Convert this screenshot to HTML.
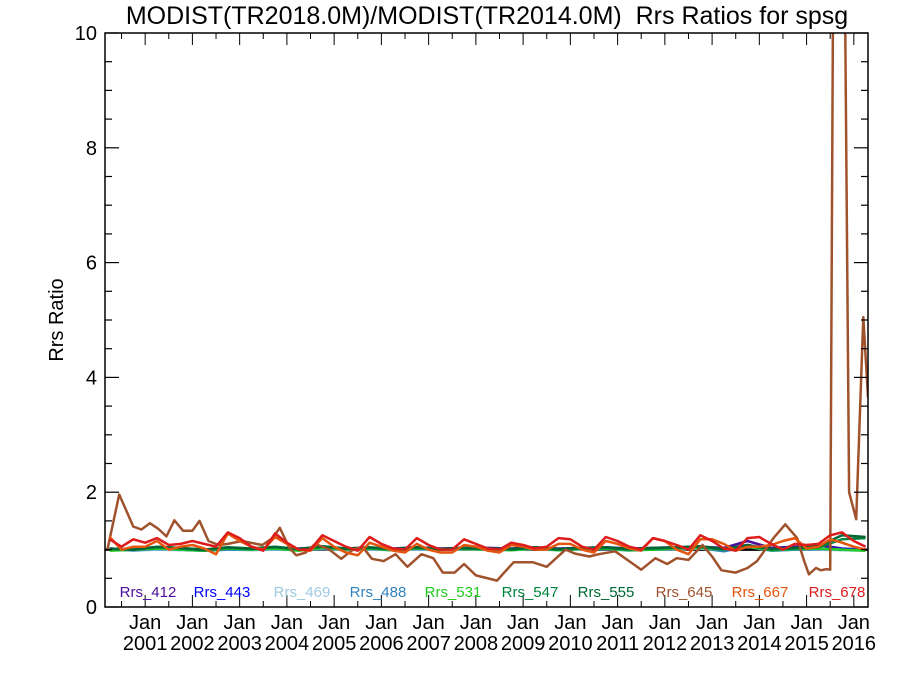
<!DOCTYPE html>
<html><head><meta charset="utf-8"><style>
html,body{margin:0;padding:0;background:#fff;}
svg text{font-family:"Liberation Sans",sans-serif;}
</style></head><body>
<svg id="chart" width="900" height="675" xmlns="http://www.w3.org/2000/svg">
<text x="487" y="24" font-size="25" text-anchor="middle">MODIST(TR2018.0M)/MODIST(TR2014.0M)&#160; Rrs Ratios for spsg</text>
<text x="0" y="0" font-size="20" text-anchor="middle" transform="translate(63,320) rotate(-90)">Rrs Ratio</text>
<defs><clipPath id="plotclip"><rect x="105" y="33" width="763" height="574"/></clipPath></defs>
<g id="series" clip-path="url(#plotclip)"></g>
<g id="axes"></g>
<g id="legend"></g>
</svg>
<script>
const xDomain=[2000.15,2016.3];
const yDomain=[0,10];
const yTicks=[0,2,4,6,8,10];
const years=[2001,2002,2003,2004,2005,2006,2007,2008,2009,2010,2011,2012,2013,2014,2015,2016];
const seriesNames=["Rrs_412","Rrs_443","Rrs_469","Rrs_488","Rrs_531","Rrs_547","Rrs_555","Rrs_645","Rrs_667","Rrs_678"];
const seriesColors=["#4a0e9e","#0000ff","#9ecae1","#3182bd","#22cc22","#00843d","#006633","#a0522d","#e6550d","#dd1c1c"];
const tQ=[];for(let i=0;i<65;i++)tQ.push(2000.25+0.25*i);
const tH=[];for(let i=0;i<33;i++)tH.push(2000.25+0.5*i);
const v412=[1.02,1.0,1.03,1.02,1.0,1.02,1.01,1.03,1.02,1.04,1.02,1.03,1.02,1.04,1.02,1.03,1.03,1.02,1.04,1.02,1.03,1.04,1.02,1.03,1.04,1.05,1.03,1.15,1.03,1.05,1.08,1.02,1.0];
const v443=[1.0,0.99,1.01,1.0,0.99,1.01,1.0,1.02,1.0,1.03,1.0,1.02,1.0,1.01,1.0,1.02,1.01,1.0,1.03,1.0,1.02,1.02,1.0,1.01,1.03,1.02,1.0,1.08,1.0,1.02,1.02,1.01,0.99];
const v469=[1.01,0.98,1.0,0.99,0.98,1.0,0.99,1.0,0.99,1.01,0.99,1.0,0.99,1.0,0.99,1.0,1.0,0.99,1.01,0.99,1.0,1.01,0.98,1.0,1.0,1.02,0.97,1.05,0.98,1.0,1.0,0.99,0.98];
const v488=[1.0,0.99,1.01,1.0,0.98,1.0,1.0,1.01,0.99,1.02,1.0,1.01,0.99,1.01,1.0,1.01,1.0,1.0,1.02,0.99,1.01,1.01,0.99,1.0,1.01,1.03,0.97,1.06,0.98,1.0,1.01,1.0,0.99];
const v531=[0.98,1.0,1.02,1.0,0.98,1.02,1.0,1.02,0.98,1.03,1.0,1.02,0.99,1.02,1.0,1.01,1.0,0.99,1.02,0.99,1.01,1.02,0.99,1.0,1.02,1.03,1.0,1.05,0.99,1.01,1.02,1.0,0.98];
const v547=[1.01,1.0,1.04,1.02,0.99,1.03,1.01,1.04,1.0,1.05,1.01,1.03,1.0,1.03,1.0,1.02,1.01,1.0,1.03,1.0,1.02,1.03,1.0,1.02,1.03,1.05,1.0,1.07,1.0,1.02,1.04,1.18,1.2];
const v555=[1.02,1.0,1.05,1.03,1.0,1.04,1.02,1.05,1.01,1.06,1.02,1.04,1.01,1.04,1.01,1.03,1.02,1.01,1.04,1.01,1.03,1.04,1.01,1.03,1.04,1.06,1.01,1.08,1.01,1.03,1.06,1.25,1.22];
const v667=[1.22,1.0,1.05,1.05,1.15,1.0,1.05,1.08,1.02,0.92,1.28,1.15,1.05,1.0,1.22,1.1,1.0,0.98,1.2,1.05,0.95,0.9,1.12,1.05,0.98,0.95,1.1,1.0,0.95,0.95,1.08,1.05,0.98,0.95,1.08,1.05,1.0,1.0,1.1,1.1,1.0,0.95,1.15,1.1,1.02,0.98,1.2,1.15,1.0,0.92,1.18,1.18,1.1,0.98,1.05,1.05,1.08,1.15,1.2,1.02,1.05,1.18,1.12,1.05,1.0];
const v678=[1.18,1.05,1.18,1.12,1.2,1.08,1.1,1.15,1.1,1.05,1.3,1.2,1.05,0.98,1.28,1.12,1.0,1.0,1.25,1.15,1.05,0.98,1.22,1.1,1.02,1.0,1.2,1.08,1.0,1.0,1.18,1.1,1.02,1.0,1.12,1.08,1.02,1.05,1.2,1.18,1.05,1.0,1.22,1.15,1.05,1.0,1.2,1.15,1.08,1.0,1.25,1.15,1.02,0.98,1.2,1.22,1.1,1.0,1.1,1.08,1.1,1.25,1.3,1.15,1.05];
const t645=[2000.2,2000.45,2000.75,2000.92,2001.1,2001.28,2001.45,2001.62,2001.8,2002.0,2002.15,2002.34,2002.55,2002.75,2003.05,2003.35,2003.48,2003.7,2003.85,2004.05,2004.2,2004.4,2004.6,2004.9,2005.15,2005.4,2005.6,2005.8,2006.05,2006.3,2006.55,2006.85,2007.1,2007.3,2007.55,2007.75,2008.0,2008.45,2008.6,2008.8,2009.2,2009.5,2009.9,2010.1,2010.4,2010.6,2010.95,2011.5,2011.8,2012.05,2012.25,2012.5,2012.8,2013.0,2013.2,2013.5,2013.75,2013.95,2014.3,2014.55,2014.8,2014.95,2015.05,2015.2,2015.3,2015.42,2015.5,2015.58,2015.72,2015.78,2015.9,2016.05,2016.2,2016.3];
const v645=[1.0,1.96,1.4,1.35,1.46,1.36,1.23,1.51,1.33,1.33,1.5,1.15,1.08,1.1,1.15,1.1,1.08,1.2,1.38,1.03,0.9,0.95,1.1,1.0,0.84,1.0,1.05,0.84,0.8,0.92,0.7,0.92,0.85,0.6,0.6,0.75,0.55,0.46,0.6,0.78,0.78,0.7,1.0,0.93,0.88,0.92,0.97,0.65,0.85,0.75,0.85,0.82,1.08,0.88,0.64,0.6,0.68,0.8,1.2,1.44,1.2,0.8,0.57,0.68,0.64,0.66,0.65,14,16,14,2.0,1.53,5.05,3.65];
const seriesTimes=[tH,tH,tH,tH,tH,tH,tH,t645,tQ,tQ];
const seriesValues=[v412,v443,v469,v488,v531,v547,v555,v645,v667,v678];

const L=105,R=868,T=33,B=607;
const xs=t=>L+(t-xDomain[0])/(xDomain[1]-xDomain[0])*(R-L);
const ys=v=>B-(v-yDomain[0])/(yDomain[1]-yDomain[0])*(B-T);
const NS="http://www.w3.org/2000/svg";
function mk(tag,attrs,parent){const e=document.createElementNS(NS,tag);for(const k in attrs)e.setAttribute(k,attrs[k]);parent.appendChild(e);return e;}
const gS=document.getElementById('series'),gA=document.getElementById('axes'),gL=document.getElementById('legend');

const ref=mk('line',{x1:L,x2:R,y1:ys(1),y2:ys(1),stroke:'#000','stroke-width':2.5},gS);



seriesNames.forEach((n,i)=>{
  const pts=seriesTimes[i].map((t,j)=>xs(t).toFixed(1)+','+ys(seriesValues[i][j]).toFixed(1)).join(' ');
  const p=mk('polyline',{points:pts,fill:'none',stroke:seriesColors[i],'stroke-width':2.5,'stroke-linejoin':'round'},gS);
  
  
});

const fr=mk('rect',{x:L,y:T,width:R-L,height:B-T,fill:'none',stroke:'#000','stroke-width':1.5},gA);



for(let v=0;v<=10.001;v+=0.5){
  const major=Math.abs(v%2)<1e-6;const len=major?14:7;const y=ys(v);
  const a=mk('line',{x1:L,x2:L+len,y1:y,y2:y,stroke:'#000','stroke-width':1.2},gA);
  
  
  const b=mk('line',{x1:R,x2:R-len,y1:y,y2:y,stroke:'#000','stroke-width':1.2},gA);
  
  
}
yTicks.forEach(v=>{
  const t=mk('text',{x:97,y:ys(v)+7,'font-size':20,'text-anchor':'end'},gA);
  t.textContent=String(v);
  
  
});
for(let t=2000.5;t<=2016.3;t+=0.5){
  const major=Math.abs(t-Math.round(t))<1e-6;const len=major?12:6;const x=xs(t);
  const a=mk('line',{x1:x,x2:x,y1:B,y2:B-len,stroke:'#000','stroke-width':1},gA);
  
  
  const b=mk('line',{x1:x,x2:x,y1:T,y2:T+len,stroke:'#000','stroke-width':1},gA);
  
  
}
years.forEach(yr=>{
  const x=xs(yr);
  const a=mk('text',{x:x,y:629,'font-size':20,'text-anchor':'middle'},gA);
  a.textContent='Jan';
  
  
  const b=mk('text',{x:x,y:650,'font-size':20,'text-anchor':'middle'},gA);
  b.textContent=String(yr);
  
  
});
const legX=[148,222,302,378,453,530,606,684,760,837];
seriesNames.forEach((n,i)=>{
  const t=mk('text',{x:legX[i],y:597,'font-size':15,'text-anchor':'middle',fill:seriesColors[i]},gL);
  t.textContent=n;
  
  
});
</script>
</body></html>
